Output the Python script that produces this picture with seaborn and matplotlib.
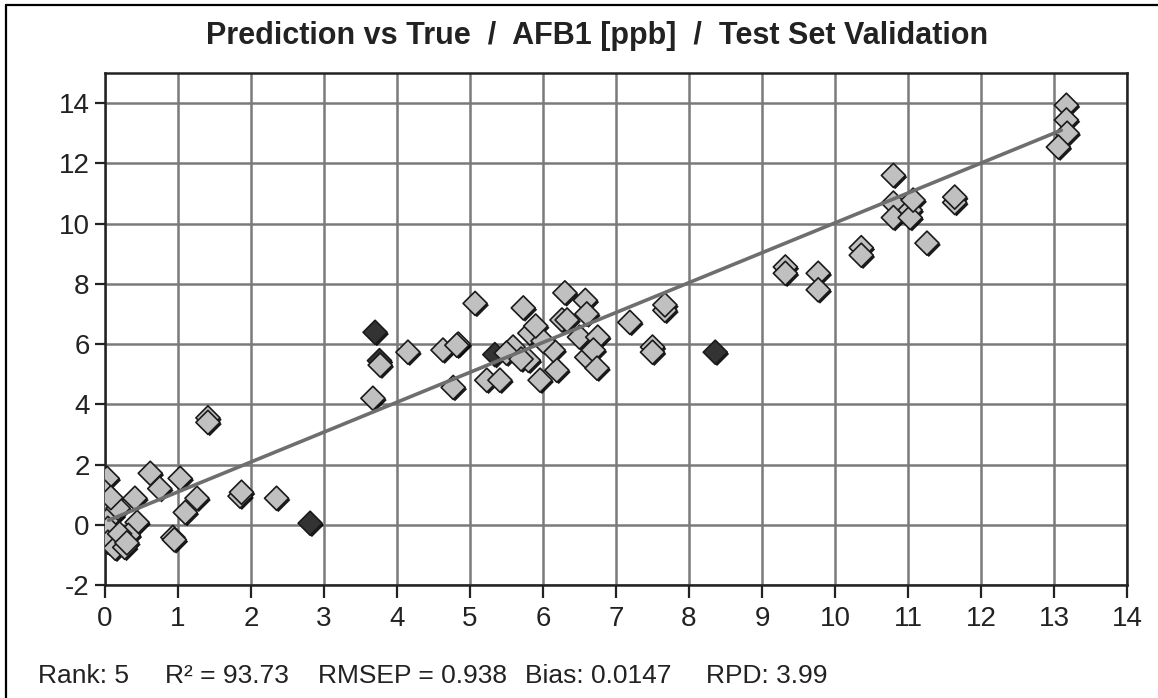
import matplotlib
matplotlib.use("Agg")
import matplotlib.pyplot as plt
import matplotlib.patheffects as pe
from matplotlib.lines import Line2D
import seaborn as sns
import pandas as pd

# ---- data (true, predicted) ----
dark_true = [3.76, 2.81, 8.36, 5.34, 3.70]
dark_pred = [5.45, 0.05, 5.73, 5.65, 6.39]

light_true = [0.03, 0.00, 0.62, 0.75, 1.03, 0.41, 1.26, 1.10, 0.44, 0.32, 0.93, 0.95,
              0.04, 0.10, 0.04, 0.04, 0.14, 0.27, 0.18, 0.20, 0.30, 0.08,
              1.41, 1.41, 1.85, 1.87, 2.35,
              3.77, 3.67, 4.15, 4.63, 4.84, 4.77, 5.07, 4.82, 5.23, 5.41, 5.59, 5.73,
              5.82, 5.80, 5.96, 6.19, 6.14, 6.30, 6.58, 6.26, 6.33, 6.60, 6.50, 6.75,
              6.60, 6.69, 6.74, 7.19, 7.67, 7.67, 7.50, 7.50, 5.50, 5.70, 6.00, 5.90,
              9.32, 9.32, 9.77, 9.77, 10.36, 10.36, 10.80, 10.80, 10.80, 11.03, 11.03,
              11.07, 11.26, 11.64, 11.64, 13.17, 13.17, 13.18, 13.06]
light_pred = [1.54, 1.08, 1.71, 1.20, 1.54, 0.88, 0.88, 0.41, 0.08, -0.35, -0.42, -0.50,
              0.64, 0.31, -0.12, -0.58, -0.78, -0.75, 0.55, -0.30, -0.60, 0.90,
              3.55, 3.40, 0.95, 1.08, 0.88,
              5.30, 4.20, 5.73, 5.80, 6.00, 4.56, 7.35, 5.96, 4.80, 4.80, 5.90, 7.20,
              6.36, 5.46, 4.80, 5.13, 5.80, 7.70, 7.45, 6.80, 6.80, 7.00, 6.23, 6.23,
              5.56, 5.80, 5.20, 6.72, 7.12, 7.30, 5.90, 5.73, 5.70, 5.50, 6.10, 6.60,
              8.56, 8.35, 8.35, 7.80, 9.20, 8.95, 11.60, 10.68, 10.20, 10.45, 10.20,
              10.78, 9.35, 10.70, 10.88, 13.93, 13.44, 13.00, 12.54]

fit_x = [0.05, 13.10]
fit_y = [0.15, 13.10]

x_ticks = list(range(0, 15))
y_ticks = list(range(-2, 15, 2))

title = "Prediction vs True  /  AFB1 [ppb]  /  Test Set Validation"
stats_labels = ["Rank: 5", "R\u00b2 = 93.73", "RMSEP = 0.938", "Bias: 0.0147", "RPD: 3.99"]

# ---- figure ----
sns.set_theme(style="white")
plt.rcParams["font.family"] = ["Liberation Sans", "DejaVu Sans"]
plt.rcParams["axes.unicode_minus"] = False

W, H = 1158, 698
fig = plt.figure(figsize=(W / 100, H / 100), dpi=100)
fig.patch.set_facecolor("white")
ax = fig.add_axes([105 / W, 1 - 585 / H, (1127 - 105) / W, (585 - 73) / H])

df = pd.DataFrame({
    "true": dark_true + light_true,
    "pred": dark_pred + light_pred,
    "grp": ["dark"] * len(dark_true) + ["light"] * len(light_true),
})

sns.scatterplot(data=df, x="true", y="pred", hue="grp",
                palette={"dark": "#333333", "light": "#c0c0c0"},
                marker="D", s=150, edgecolor="#1a1a1a", linewidth=1.2,
                legend=False, ax=ax, zorder=3)
for coll in ax.collections:
    coll.set_path_effects([pe.SimplePatchShadow(offset=(1.3, -1.3), shadow_rgbFace="black", alpha=0.9),
                           pe.Normal()])

sns.lineplot(x=fit_x, y=fit_y, color="#6e6e6e", linewidth=2.6, ax=ax, zorder=4)

ax.set_xlim(0, 14)
ax.set_ylim(-2, 15)
ax.set_xticks(x_ticks)
ax.set_yticks(y_ticks)
ax.set_xlabel("")
ax.set_ylabel("")
ax.grid(True, color="#7a7a7a", linewidth=1.8, zorder=0)
ax.set_axisbelow(True)
for sp in ax.spines.values():
    sp.set_color("#222222")
    sp.set_linewidth(1.8)
ax.tick_params(axis="both", direction="out", width=1.6, color="#222222",
               labelsize=20, labelcolor="#222222", bottom=True, left=True)
ax.tick_params(axis="x", length=9, pad=6)
ax.tick_params(axis="y", length=7, pad=4)

fig.text(597 / W, 1 - 36 / H, title, ha="center", va="center",
         fontsize=22, fontweight="bold", color="#222222")

xs = [38, 165, 318, 525, 706]
for x, s in zip(xs, stats_labels):
    fig.text(x / W, 1 - 676 / H, s, ha="left", va="center", fontsize=19, color="#222222")

# outer frame (left and top edges)
fig.add_artist(Line2D([6 / W, 6 / W], [0, 1 - 5 / H], transform=fig.transFigure, color="black", lw=1.6))
fig.add_artist(Line2D([6 / W, 1], [1 - 5 / H, 1 - 5 / H], transform=fig.transFigure, color="black", lw=1.6))

fig.savefig("out.png", dpi=100, facecolor="white")
